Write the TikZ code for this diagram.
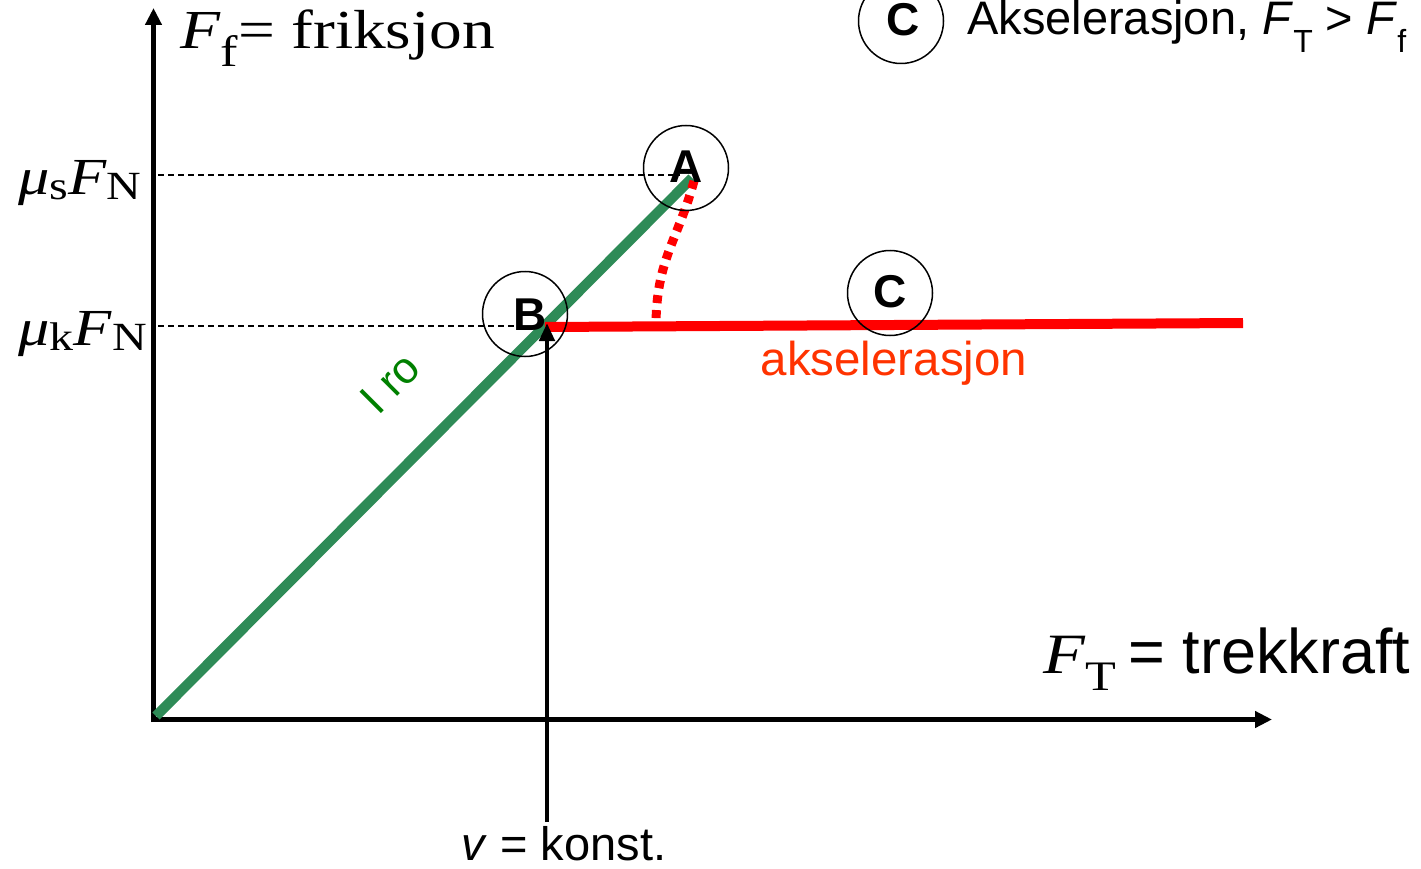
\documentclass[tikz,border=0pt]{standalone}
\usepackage{fontspec}
\setmainfont{Liberation Sans}
\newfontfamily\tms{Liberation Serif}
\usetikzlibrary{arrows.meta}
\definecolor{sgreen}{RGB}{46,139,87}
\definecolor{rogreen}{RGB}{0,128,0}
\definecolor{akred}{RGB}{255,51,0}
\newcommand\fsz[1]{\fontsize{#1}{#1}\selectfont}
\newcommand\lsub[3]{\raisebox{-#1pt}{\fsz{#2}#3}}
\begin{document}
\begin{tikzpicture}[x=1pt,y=-1pt,
  axis/.style={line width=4.5pt,-{Triangle[length=17pt,width=16pt]}},
  guide/.style={line width=1.3pt,dash pattern=on 6pt off 4pt},
  markcirc/.style={circle,draw,line width=1.5pt,minimum size=85pt,inner sep=0pt},
  letter/.style={font=\fsz{46}\bfseries,inner sep=0pt},
  lbl/.style={inner sep=0pt}]
\clip (0,0) rectangle (1421,869);
% axes
\coordinate (ybot) at (153.5,722);
\coordinate (ytop) at (153.5,8);
\coordinate (xbeg) at (151,719.5);
\coordinate (xend) at (1272,719.5);
\draw[axis] (ybot) -- (ytop);
\draw[axis] (xbeg) -- (xend);
% guides
\coordinate (ms) at (158,175);
\coordinate (msE) at (680,175);
\coordinate (mk) at (158,326);
\coordinate (mkE) at (520,326);
\draw[guide] (ms) -- (msE);
\draw[guide] (mk) -- (mkE);
% green line
\coordinate (g0) at (156,716);
\coordinate (gA) at (692,178);
\draw[sgreen,line width=10pt] (g0) -- (gA);
% red line
\coordinate (rB) at (545,327);
\coordinate (rend) at (1243,323);
\draw[red,line width=10pt] (rB) -- (rend);
% dotted transition
\coordinate (dA) at (694,181);
\coordinate (dB) at (656,326);
\draw[red,line width=9pt,dash pattern=on 8pt off 7pt] (dA) .. controls (678,240) and (656,260) .. (dB);
% vertical arrow
\coordinate (vb) at (547,822);
\coordinate (vt) at (547,323);
\draw[line width=4.5pt,-{Triangle[length=18pt,width=15pt]}] (vb) -- (vt);
% circles
\node[markcirc] (cA) at (686,168) {};
\node[letter] (lA) at (686,167) {A};
\node[markcirc] (cB) at (525,314) {};
\node[letter] (lB) at (530,315) {B};
\node[markcirc] (cC) at (890,293) {};
\node[letter] (lC) at (890,292) {C};
\node[markcirc] (cT) at (901,21) {};
\node[letter] (lT) at (903,20) {C};
% texts
\node[lbl,anchor=base west,font=\fsz{47}] (leg) at (967,35) {Akselerasjon, \textit{F}\lsub{18}{32}{T} > \textit{F}\lsub{18}{32}{f}};
\node[lbl,anchor=base west] (ff) at (180,49) {\scalebox{1.19}[1]{\tms\fsz{55}\textit{F}\lsub{18}{44}{f}= friksjon}};
\node[lbl,anchor=base west] (mus) at (18,195) {\scalebox{1.2}[1]{\tms\fsz{52}\textit{μ}\lsub{5}{40}{s}\textit{F}\lsub{5}{40}{N}}};
\node[lbl,anchor=base west] (muk) at (18,345) {\scalebox{1.2}[1]{\tms\fsz{52}\textit{μ}\lsub{5}{40}{k}\textit{F}\lsub{5}{40}{N}}};
\node[lbl,anchor=base west] (ft) at (1043,673) {\scalebox{1.2}[1]{\tms\fsz{57}\textit{F}\lsub{17}{42}{T}}\hspace{12pt}{\fsz{63}= trekkraft}};
\node[lbl,anchor=base,font=\fsz{47}] (vk) at (564,860) {\textit{v} = konst.};
\node[lbl,anchor=base,font=\fsz{47.5},text=akred] (aks) at (894,375) {akselerasjon};
\node[lbl,rotate=45,font=\fsz{44},text=rogreen] (iro) at (390,383) {I ro};
\end{tikzpicture}
\end{document}
